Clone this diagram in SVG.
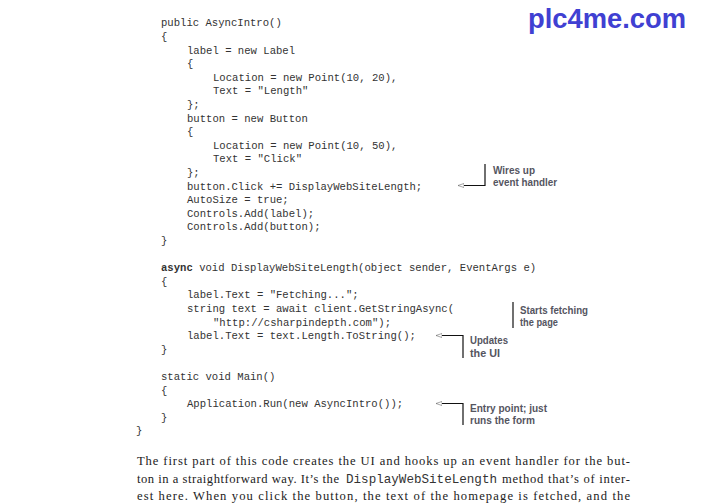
<svg xmlns="http://www.w3.org/2000/svg" width="707" height="503" viewBox="0 0 707 503">
<style>
.code{font-family:"Liberation Mono","Courier New",monospace;font-size:10.6px;fill:#333;}
.kw{font-weight:bold;}
.ann{font-family:"Liberation Sans",Arial,sans-serif;font-weight:bold;font-size:10.5px;fill:#55555f;}
.body{font-family:"Liberation Serif","Times New Roman",serif;font-size:12.6px;fill:#222;}
.bmono{font-family:"Liberation Mono","Courier New",monospace;font-size:12.7px;fill:#333;}
.ln{fill:none;stroke:#111;stroke-width:1.2;}
.wm{font-family:"Liberation Sans",Arial,sans-serif;font-weight:bold;font-size:27px;fill:#4040d2;}
</style>
<defs>
<marker id="arr" viewBox="0 0 8 6" refX="8" refY="3" markerWidth="6" markerHeight="5" markerUnits="userSpaceOnUse" orient="auto">
<path d="M8,3 L0,0.3 L0,5.7 Z" fill="#fff" stroke="#888" stroke-width="1"/>
</marker>
</defs>
<rect width="707" height="503" fill="#fff"/>
<text class="wm" x="528" y="28" textLength="158" lengthAdjust="spacingAndGlyphs">plc4me.com</text>
<g id="code">
<text class="code" x="161" y="26.3">public AsyncIntro()</text>
<text class="code" x="161" y="39.9">{</text>
<text class="code" x="187" y="53.5">label = new Label</text>
<text class="code" x="187" y="67.1">{</text>
<text class="code" x="213" y="80.7">Location = new Point(10, 20),</text>
<text class="code" x="213" y="94.3">Text = "Length"</text>
<text class="code" x="187" y="107.9">};</text>
<text class="code" x="187" y="121.5">button = new Button</text>
<text class="code" x="187" y="135.1">{</text>
<text class="code" x="213" y="148.7">Location = new Point(10, 50),</text>
<text class="code" x="213" y="162.3">Text = "Click"</text>
<text class="code" x="187" y="175.9">};</text>
<text class="code" x="187" y="189.5">button.Click += DisplayWebSiteLength;</text>
<text class="code" x="187" y="203.1">AutoSize = true;</text>
<text class="code" x="187" y="216.7">Controls.Add(label);</text>
<text class="code" x="187" y="230.3">Controls.Add(button);</text>
<text class="code" x="161" y="243.9">}</text>
<text class="code" x="161" y="271.1"><tspan class="kw">async</tspan> void DisplayWebSiteLength(object sender, EventArgs e)</text>
<text class="code" x="161" y="284.7">{</text>
<text class="code" x="187" y="298.3">label.Text = "Fetching...";</text>
<text class="code" x="187" y="311.9">string text = await client.GetStringAsync(</text>
<text class="code" x="213" y="325.5">"http://csharpindepth.com");</text>
<text class="code" x="187" y="339.1">label.Text = text.Length.ToString();</text>
<text class="code" x="161" y="352.7">}</text>
<text class="code" x="161" y="379.9">static void Main()</text>
<text class="code" x="161" y="393.5">{</text>
<text class="code" x="187" y="407.1">Application.Run(new AsyncIntro());</text>
<text class="code" x="161" y="420.7">}</text>
<text class="code" x="136" y="434.3">}</text>
</g>
<g id="connectors">
<path class="ln" d="M485,164 V185.5 H458" marker-end="url(#arr)"/>
<path class="ln" d="M513,302 V328"/>
<path class="ln" d="M463,358 V335.5 H436" marker-end="url(#arr)"/>
<path class="ln" d="M463,425 V403.5 H436" marker-end="url(#arr)"/>
</g>
<g id="ann-wires">
<text class="ann" x="493" y="173.5" textLength="42" lengthAdjust="spacingAndGlyphs">Wires up</text>
<text class="ann" x="493" y="185.5" textLength="64" lengthAdjust="spacingAndGlyphs">event handler</text>
</g>
<g id="ann-fetch">
<text class="ann" x="520" y="314" textLength="68" lengthAdjust="spacingAndGlyphs">Starts fetching</text>
<text class="ann" x="520" y="326" textLength="38" lengthAdjust="spacingAndGlyphs">the page</text>
</g>
<g id="ann-updates">
<text class="ann" x="470" y="343.5" textLength="38" lengthAdjust="spacingAndGlyphs">Updates</text>
<text class="ann" x="470" y="356.5" textLength="30" lengthAdjust="spacingAndGlyphs">the UI</text>
</g>
<g id="ann-entry">
<text class="ann" x="470" y="411.5" textLength="77" lengthAdjust="spacingAndGlyphs">Entry point; just</text>
<text class="ann" x="470" y="423.5" textLength="65" lengthAdjust="spacingAndGlyphs">runs the form</text>
</g>
<g id="body">
<text class="body" x="137" y="465" textLength="493" lengthAdjust="spacing">The first part of this code creates the UI and hooks up an event handler for the but-</text>
<text class="body" x="137" y="482.5" textLength="202" lengthAdjust="spacing">ton in a straightforward way. It’s the</text>
<text class="bmono" x="346" y="482.5" textLength="151" lengthAdjust="spacingAndGlyphs">DisplayWebSiteLength</text>
<text class="body" x="502" y="482.5" textLength="128" lengthAdjust="spacing">method that’s of inter-</text>
<text class="body" x="137" y="499.5" textLength="493" lengthAdjust="spacing">est here. When you click the button, the text of the homepage is fetched, and the</text>
</g>
</svg>
